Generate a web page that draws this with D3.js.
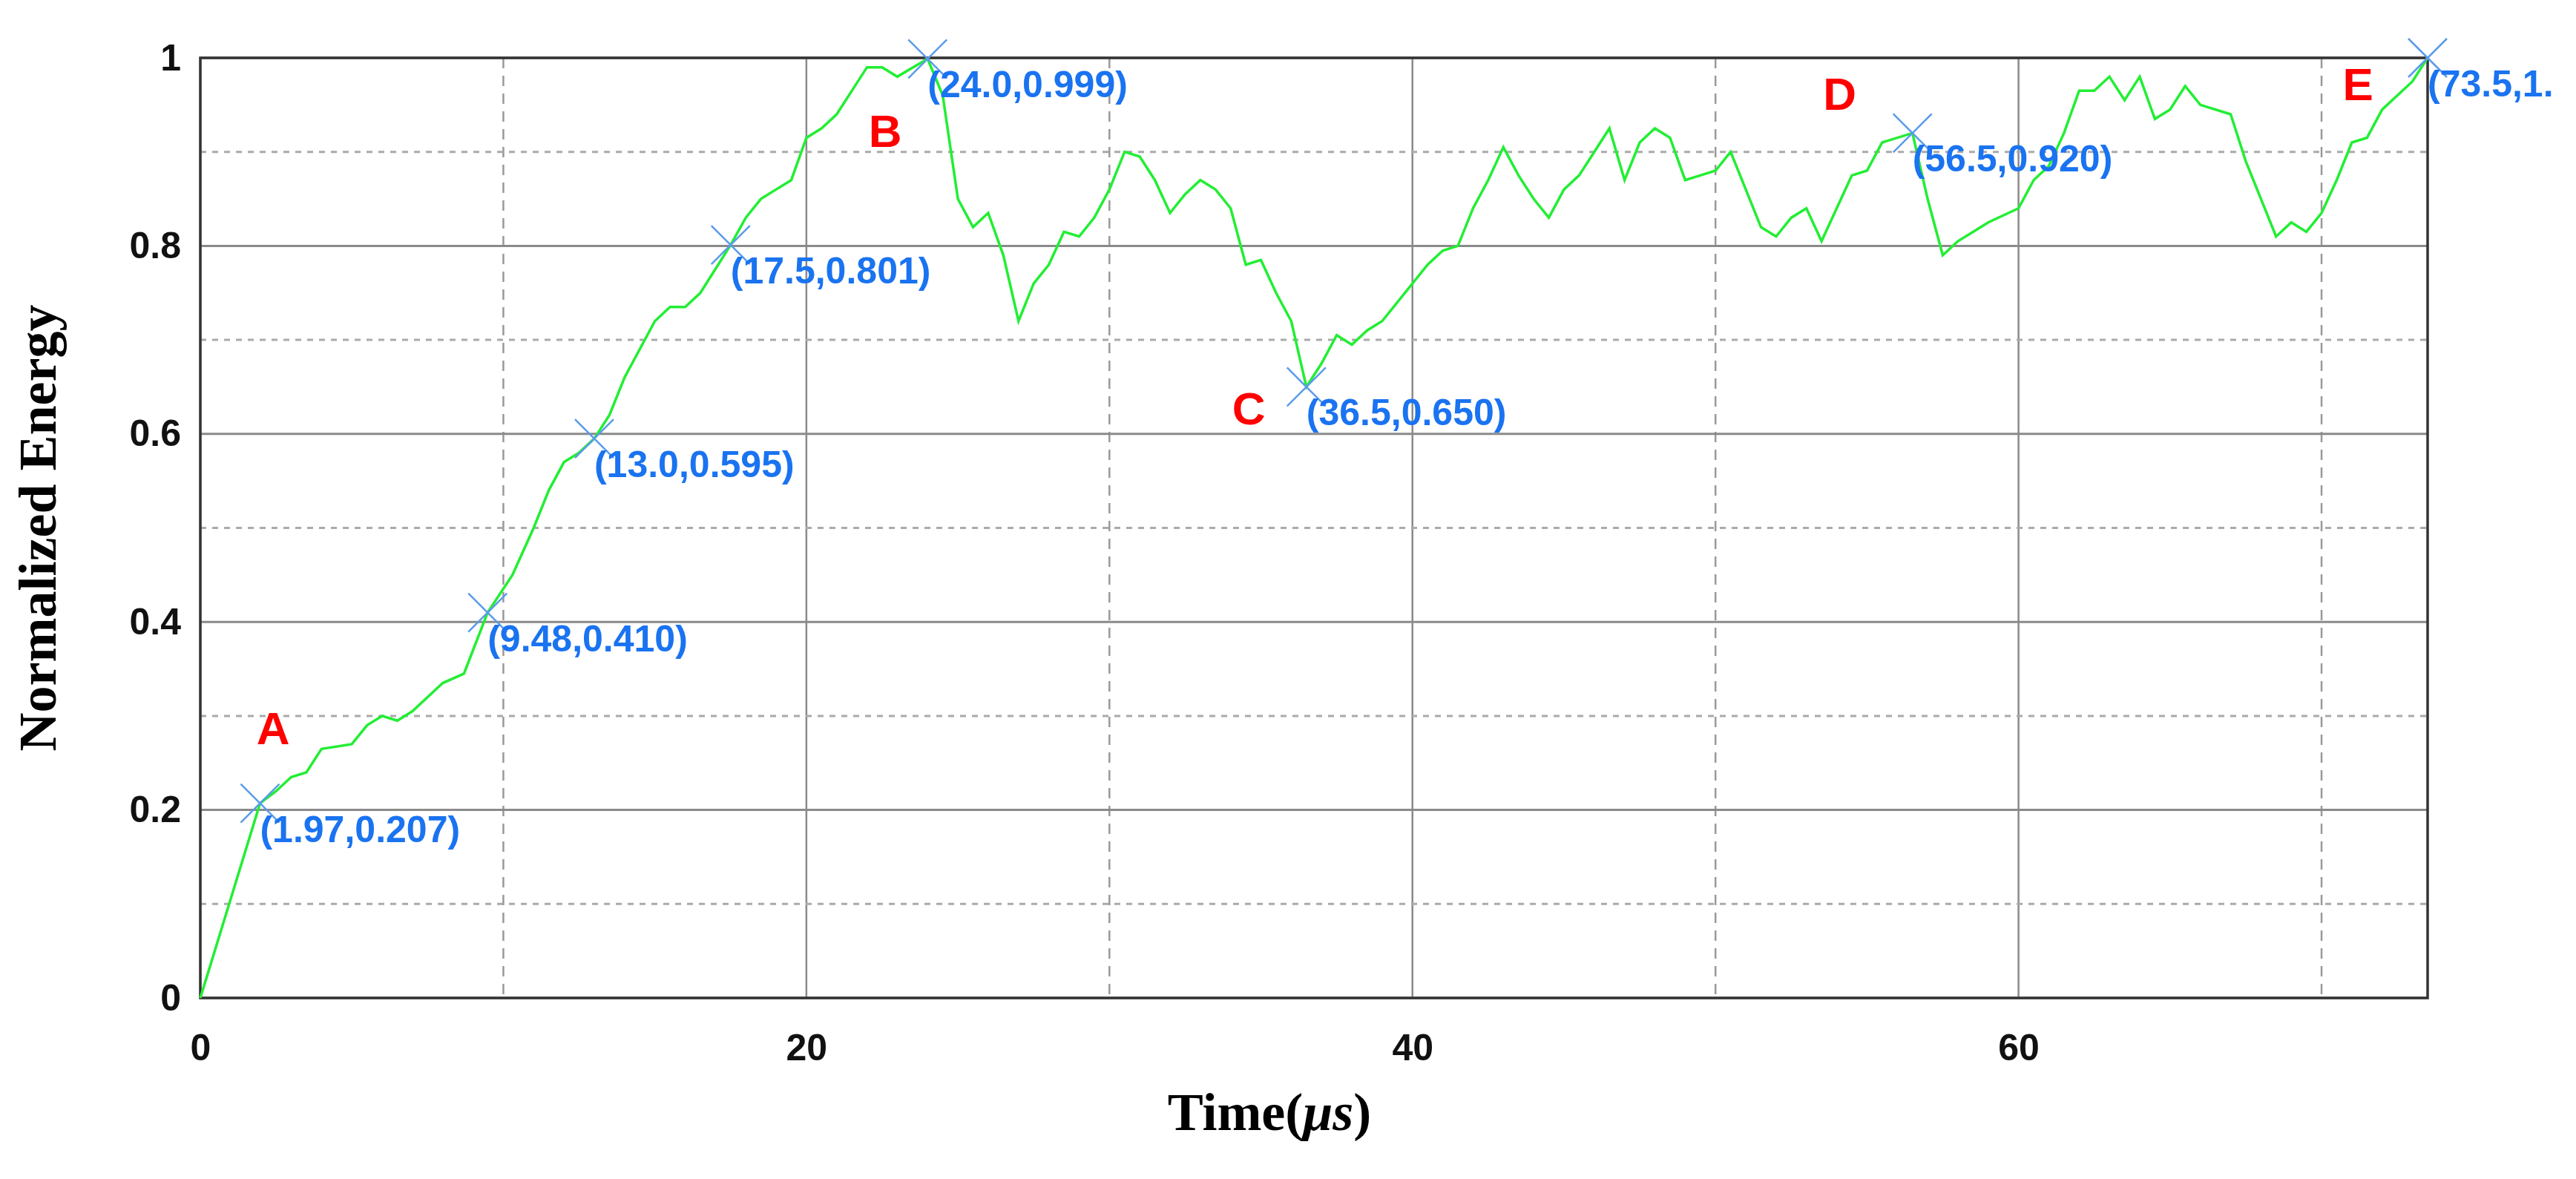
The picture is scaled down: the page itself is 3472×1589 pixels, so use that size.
<!DOCTYPE html>
<html><head><meta charset="utf-8">
<script src="https://cdn.jsdelivr.net/npm/d3@7"></script>
<style>body{margin:0;background:#fff}</style>
</head><body><div id="chart"></div>
<script>
// Data
const times = [0,1.97,2.5,3,3.5,4,5,5.5,6,6.5,7,8,8.7,9.48,10.3,11,11.5,12,12.5,13,13.5,14,15,15.5,16,16.5,17.5,18,18.5,19,19.5,20,20.5,21,21.5,22,22.5,23,24,24.5,25,25.5,26,26.5,27,27.5,28,28.5,29,29.5,30,30.5,31,31.5,32,32.5,33,33.5,34,34.5,35,35.5,36,36.5,37,37.5,38,38.5,39,40,40.5,41,41.5,42,42.5,43,43.5,44,44.5,45,45.5,46,46.5,47,47.5,48,48.5,49,49.5,50,50.5,51,51.5,52,52.5,53,53.5,54,54.5,55,55.5,56.5,57,57.5,58,58.5,59,60,60.5,61,61.5,62,62.5,63,63.5,64,64.5,65,65.5,66,67,67.5,68,68.5,69,69.5,70,70.5,71,71.5,72,73,73.5];
const energy = [0,0.207,0.22,0.235,0.24,0.265,0.27,0.29,0.30,0.295,0.305,0.335,0.345,0.41,0.45,0.50,0.54,0.57,0.58,0.595,0.62,0.66,0.72,0.735,0.735,0.75,0.801,0.83,0.85,0.86,0.87,0.915,0.925,0.94,0.965,0.99,0.99,0.98,0.999,0.96,0.85,0.82,0.835,0.79,0.72,0.76,0.78,0.815,0.81,0.83,0.86,0.90,0.895,0.87,0.835,0.855,0.87,0.86,0.84,0.78,0.785,0.75,0.72,0.65,0.675,0.705,0.695,0.71,0.72,0.76,0.78,0.795,0.80,0.84,0.87,0.905,0.875,0.85,0.83,0.86,0.875,0.90,0.925,0.87,0.91,0.925,0.915,0.87,0.875,0.88,0.90,0.86,0.82,0.81,0.83,0.84,0.805,0.84,0.875,0.88,0.91,0.92,0.85,0.79,0.805,0.815,0.825,0.84,0.87,0.885,0.92,0.965,0.965,0.98,0.955,0.98,0.935,0.945,0.97,0.95,0.94,0.89,0.85,0.81,0.825,0.815,0.835,0.87,0.91,0.915,0.945,0.975,1.0];
const markT = [1.97,9.48,13.0,17.5,24.0,36.5,56.5,73.5];
const markV = [0.207,0.410,0.595,0.801,0.999,0.650,0.920,1.0];
const markText = ["(1.97,0.207)","(9.48,0.410)","(13.0,0.595)","(17.5,0.801)","(24.0,0.999)","(36.5,0.650)","(56.5,0.920)","(73.5,1."];
const letters = ["A","B","C","D","E"];
const letterT = [2.4,22.6,34.6,54.1,71.2];
const letterV = [0.27,0.905,0.61,0.945,0.955];
const xTicks = [0,20,40,60];
const xMinor = [10,30,50,70];
const yTicks = [0,0.2,0.4,0.6,0.8,1];
const yMinor = [0.1,0.3,0.5,0.7,0.9];

const W = 3472, H = 1589;
const margin = {top: 78, right: 200, bottom: 244, left: 270};
const width = W - margin.left - margin.right;
const height = H - margin.top - margin.bottom;

const svg = d3.select("#chart").append("svg")
    .attr("width", W).attr("height", H)
  .append("g")
    .attr("transform", `translate(${margin.left},${margin.top})`);

const x = d3.scaleLinear().domain([0, 73.5]).range([0, width]);
const y = d3.scaleLinear().domain([0, 1]).range([height, 0]);

// grid
svg.selectAll(".gx").data(xTicks).enter().append("line")
  .attr("x1", d => x(d)).attr("x2", d => x(d)).attr("y1", 0).attr("y2", height)
  .attr("stroke", "#8a8a8a").attr("stroke-width", 2.5);
svg.selectAll(".gxm").data(xMinor).enter().append("line")
  .attr("x1", d => x(d)).attr("x2", d => x(d)).attr("y1", 0).attr("y2", height)
  .attr("stroke", "#999").attr("stroke-width", 2.5).attr("stroke-dasharray", "14,10");
svg.selectAll(".gy").data(yTicks).enter().append("line")
  .attr("y1", d => y(d)).attr("y2", d => y(d)).attr("x1", 0).attr("x2", width)
  .attr("stroke", "#8a8a8a").attr("stroke-width", 3);
svg.selectAll(".gym").data(yMinor).enter().append("line")
  .attr("y1", d => y(d)).attr("y2", d => y(d)).attr("x1", 0).attr("x2", width)
  .attr("stroke", "#aaa").attr("stroke-width", 3).attr("stroke-dasharray", "8,8");

// frame
svg.append("rect").attr("width", width).attr("height", height)
  .attr("fill", "none").attr("stroke", "#333").attr("stroke-width", 3.5);

// axes
const tickFont = "'Liberation Sans Narrow','Arial Narrow',sans-serif";
const xAxis = svg.append("g").attr("transform", `translate(0,${height})`)
  .call(d3.axisBottom(x).tickValues(xTicks).tickSize(0).tickPadding(48).tickFormat(d3.format("d")));
const yAxis = svg.append("g")
  .call(d3.axisLeft(y).tickValues(yTicks).tickSize(0).tickPadding(26).tickFormat(d => d === 0 || d === 1 ? d : d.toFixed(1)));
[xAxis, yAxis].forEach(a => {
  a.select(".domain").remove();
  a.selectAll("text").attr("font-family", tickFont).attr("font-weight", "bold")
    .attr("font-size", 50).attr("fill", "#111");
});

// line
svg.append("path")
  .datum(times.map((t, i) => [t, energy[i]]))
  .attr("fill", "none").attr("stroke", "#22ee33").attr("stroke-width", 3.5)
  .attr("d", d3.line().x(d => x(d[0])).y(d => y(d[1])));

// markers
const ms = 26;
const marks = svg.selectAll(".mk").data(markT.map((t, i) => ({t, v: markV[i], s: markText[i]})))
  .enter().append("g").attr("transform", d => `translate(${x(d.t)},${y(d.v)})`);
marks.append("path").attr("d", `M${-ms},${-ms}L${ms},${ms}M${-ms},${ms}L${ms},${-ms}`)
  .attr("stroke", "#5b9bea").attr("stroke-width", 2.5);
marks.append("text").attr("x", 0).attr("y", 52)
  .attr("font-family", tickFont).attr("font-weight", "bold").attr("font-size", 50)
  .attr("fill", "#1a73f0").text(d => d.s);

// letters
svg.selectAll(".lt").data(letters).enter().append("text")
  .attr("x", (d, i) => x(letterT[i])).attr("y", (d, i) => y(letterV[i]))
  .attr("text-anchor", "middle")
  .attr("font-family", tickFont).attr("font-weight", "bold").attr("font-size", 62)
  .attr("fill", "#ff0000").text(d => d);

// axis titles
svg.append("text")
  .attr("x", width / 2 - 60).attr("y", height + 178)
  .attr("text-anchor", "middle").attr("font-family", "'Liberation Serif','Times New Roman',serif")
  .attr("font-weight", "bold").attr("font-size", 72)
  .html("Time(<tspan font-style='italic'>μs</tspan>)");
svg.append("text")
  .attr("transform", `translate(-195,${height / 2}) rotate(-90)`)
  .attr("text-anchor", "middle").attr("font-family", "'Liberation Serif','Times New Roman',serif")
  .attr("font-weight", "bold").attr("font-size", 72)
  .text("Normalized Energy");
</script>
</body></html>
